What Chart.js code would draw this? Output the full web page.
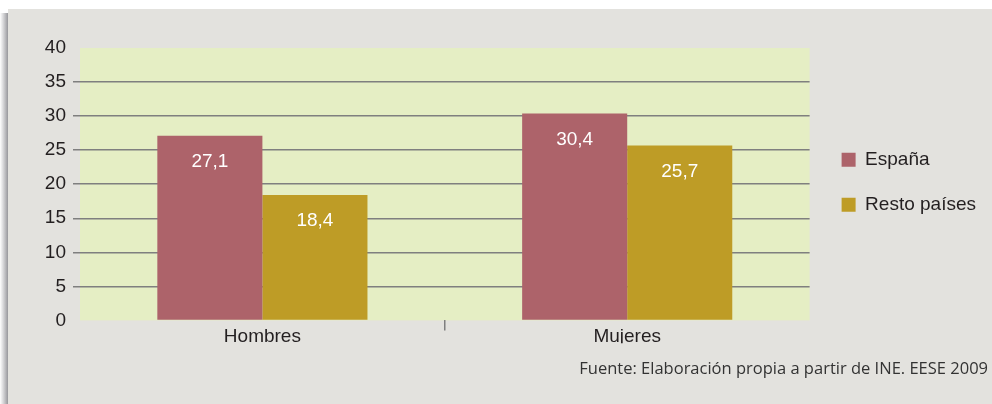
<!DOCTYPE html>
<html>
<head>
<meta charset="utf-8">
<script src="https://cdn.jsdelivr.net/npm/chart.js@4"></script>
<style>
  html, body { margin: 0; padding: 0; background: #ffffff; }
  #wrap { width: 992px; height: 404px; }
</style>
</head>
<body>
<div id="wrap"><canvas id="chart" width="992" height="404"></canvas></div>
<script>
const categories = ['Hombres', 'Mujeres'];
const espana = [27.1, 30.4];
const restoPaises = [18.4, 25.7];
const seriesNames = ['España', 'Resto países'];
const yTicks = [0, 5, 10, 15, 20, 25, 30, 35, 40];
const sourceText = 'Fuente: Elaboración propia a partir de INE. EESE 2009';

const arial = '"Liberation Sans", Arial, sans-serif';

// grey panel with a soft shadow on the left, green plot area
const background = {
  id: 'background',
  beforeDraw(chart) {
    const { ctx, chartArea: a, width, height } = chart;
    ctx.save();
    ctx.fillStyle = '#ffffff';
    ctx.fillRect(0, 0, width, height);
    const g = ctx.createLinearGradient(0, 0, 8, 0);
    g.addColorStop(0, 'rgba(150,150,155,0)');
    g.addColorStop(1, 'rgba(140,140,145,0.9)');
    ctx.fillStyle = g;
    ctx.fillRect(0, 13, 8, height - 13);
    ctx.fillStyle = '#e3e2de';
    ctx.fillRect(8, 9, width - 8, height - 9);
    ctx.fillStyle = '#e5eec4';
    ctx.fillRect(a.left, a.top, a.right - a.left, a.bottom - a.top);
    ctx.restore();
  }
};

// a bit more room on the legend's left, items nudged
const legendRoom = {
  id: 'legendRoom',
  afterInit(chart) {
    const lg = chart.legend;
    const fit = lg.fit.bind(lg);
    lg.fit = function () { fit(); this.width += 8; };
    const draw = lg.draw.bind(lg);
    lg.draw = function () {
      chart.ctx.save();
      chart.ctx.translate(6, -2);
      draw();
      chart.ctx.restore();
    };
  }
};

// values written inside the bars, decimal comma
const barValues = {
  id: 'barValues',
  afterDatasetsDraw(chart) {
    const { ctx } = chart;
    ctx.save();
    ctx.fillStyle = '#ffffff';
    ctx.font = '19px ' + arial;
    ctx.textAlign = 'center';
    ctx.textBaseline = 'middle';
    chart.data.datasets.forEach((ds, i) => {
      chart.getDatasetMeta(i).data.forEach((bar, j) => {
        const txt = ds.data[j].toFixed(1).replace('.', ',');
        ctx.fillText(txt, bar.x, bar.y + 26);
      });
    });
    ctx.restore();
  }
};

new Chart(document.getElementById('chart'), {
  type: 'bar',
  data: {
    labels: categories,
    datasets: [
      {
        label: seriesNames[0],
        data: espana,
        backgroundColor: '#ad636a',
        categoryPercentage: 0.576,
        barPercentage: 1.0
      },
      {
        label: seriesNames[1],
        data: restoPaises,
        backgroundColor: '#be9c26',
        categoryPercentage: 0.576,
        barPercentage: 1.0
      }
    ]
  },
  options: {
    responsive: false,
    animation: false,
    layout: {
      padding: { top: 48, left: 8, right: 4, bottom: 25 }
    },
    plugins: {
      legend: {
        position: 'right',
        align: 'center',
        fullSize: false,
        labels: {
          boxWidth: 14,
          boxHeight: 14,
          padding: 26,
          color: '#231f20',
          font: { family: arial, size: 19 }
        }
      },
      title: {
        display: true,
        text: sourceText,
        position: 'bottom',
        align: 'end',
        color: '#333333',
        font: { family: '"Open Sans", sans-serif', size: 16.5, weight: 'normal' },
        padding: { top: 16, bottom: 0 }
      },
      tooltip: { enabled: false }
    },
    scales: {
      x: {
        grid: {
          offset: true,
          drawOnChartArea: false,
          drawTicks: true,
          tickLength: 10,
          lineWidth: 1.5,
          color: ctx => ctx.index === 1 ? '#7f7f7f' : 'rgba(0,0,0,0)'
        },
        border: { display: false },
        ticks: {
          padding: -5,
          color: '#231f20',
          font: { family: arial, size: 19 }
        }
      },
      y: {
        min: 0,
        max: 40,
        afterFit: s => { s.width = 72; },
        afterBuildTicks: s => { s.ticks = yTicks.map(v => ({ value: v })); },
        grid: {
          tickLength: 7,
          lineWidth: 1.5,
          color: ctx => (ctx.tick && (ctx.tick.value === 0 || ctx.tick.value === 40)) ? 'rgba(0,0,0,0)' : '#7f7f7f'
        },
        border: { display: false },
        ticks: {
          padding: 7,
          color: '#231f20',
          font: { family: arial, size: 19 }
        }
      }
    }
  },
  plugins: [background, legendRoom, barValues]
});
</script>
</body>
</html>
